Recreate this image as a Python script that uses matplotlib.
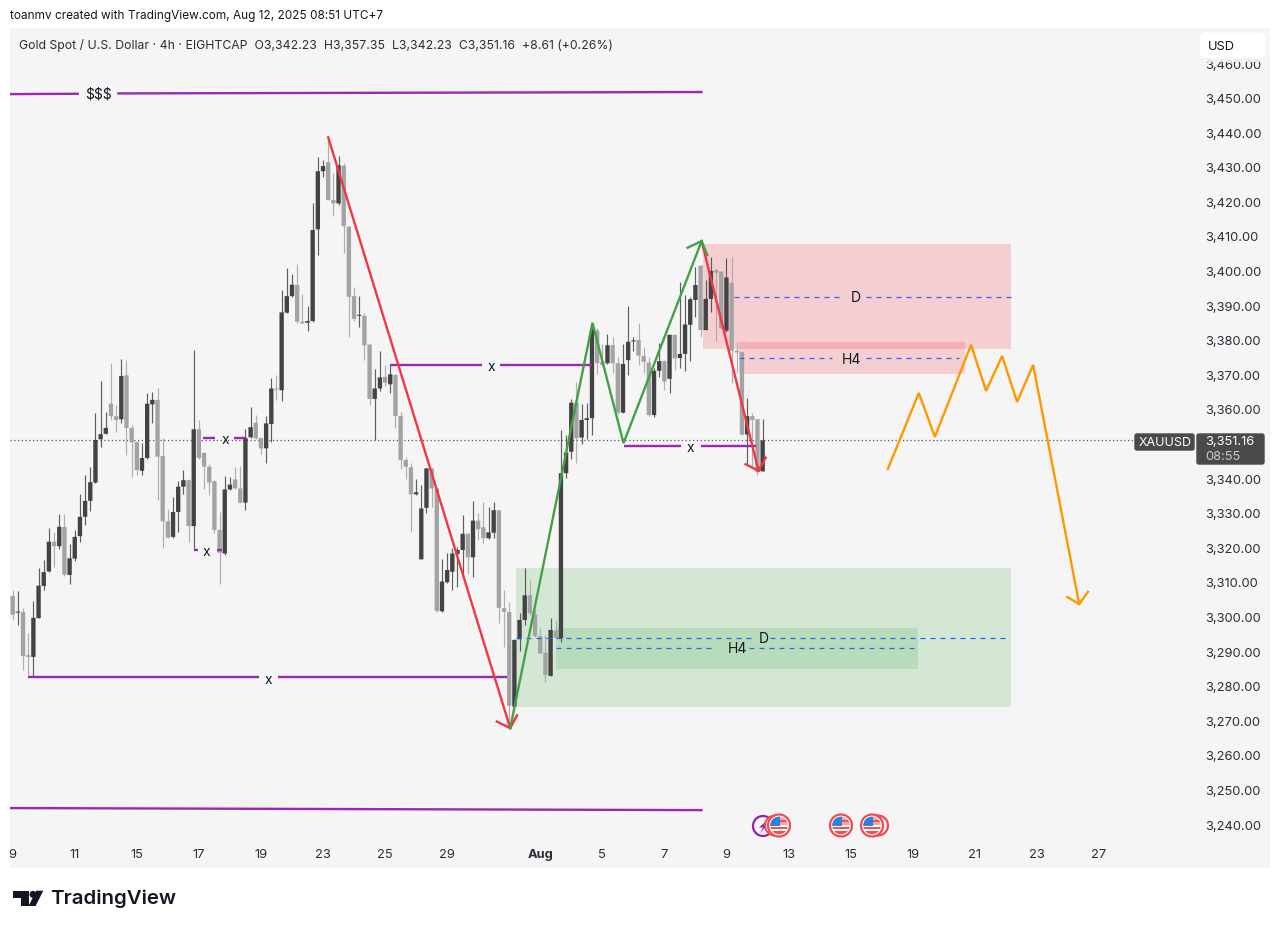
import matplotlib
matplotlib.use("Agg")
import matplotlib.pyplot as plt
from matplotlib.patches import Rectangle, FancyBboxPatch, Circle, Polygon

plt.rcParams['font.family'] = ['Inter', 'DejaVu Sans']

# 4h OHLC candles
opens = [3306.2,3301.4,3301.6,3289.1,3288.6,3299.8,3309.1,3313.3,3321.9,3320.6,3326.2,3312.3,3317.0,3323.5,3329.1,3333.7,
 3339.0,3351.5,3353.1,3361.8,3358.2,3357.3,3370.0,3354.8,3350.7,3342.4,3346.1,3361.6,3362.9,3346.7,3327.8,3323.3,
 3330.5,3337.8,3339.7,3326.4,3354.4,3347.6,3343.6,3339.4,3325.3,3318.5,3337.0,3339.9,3337.3,3333.2,3352.1,3356.3,
 3351.9,3348.9,3355.9,3366.2,3365.7,3388.1,3392.9,3396.1,3385.5,3385.2,3385.7,3412.2,3429.0,3431.6,3420.7,3419.7,
 3430.6,3413.0,3392.9,3387.2,3387.2,3378.9,3363.2,3366.2,3369.6,3367.4,3370.1,3358.2,3345.5,3343.4,3335.6,3316.8,
 3331.7,3343.1,3337.3,3301.8,3310.2,3313.2,3318.3,3319.5,3324.2,3317.4,3328.0,3326.1,3322.9,3324.5,3331.0,3302.7,
 3301.6,3274.2,3293.7,3299.3,3306.4,3300.8,3294.6,3289.8,3283.1,3296.2,3294.0,3341.7,3347.9,3362.1,3352.0,3357.1,
 3357.6,3382.9,3373.9,3373.5,3378.7,3373.5,3359.2,3374.4,3379.8,3380.2,3375.6,3373.7,3358.5,3371.3,3374.1,3369.0,
 3381.7,3375.0,3376.2,3384.6,3391.8,3401.7,3383.1,3392.1,3400.4,3400.0,3382.9,3396.8,3377.1,3376.7,3352.9,3358.2,
 3357.3,3342.23]
highs = [3307.9,3307.6,3302.6,3295.6,3304.8,3314.2,3316.6,3326.0,3324.8,3329.9,3329.9,3321.2,3325.3,3335.7,3341.2,3343.6,
 3359.0,3368.4,3359.5,3373.6,3361.4,3374.6,3374.4,3355.6,3351.0,3350.3,3364.8,3365.3,3366.2,3351.8,3331.5,3334.7,
 3339.5,3342.6,3339.9,3377.3,3357.1,3347.9,3344.5,3339.6,3330.6,3340.9,3340.5,3343.6,3343.8,3354.4,3360.9,3358.5,
 3352.0,3358.2,3369.1,3370.1,3394.8,3401.1,3399.3,3402.2,3393.5,3390.1,3419.7,3433.0,3432.2,3438.0,3428.4,3433.4,
 3431.3,3413.2,3395.6,3392.9,3388.1,3379.1,3371.7,3377.0,3373.0,3373.0,3370.3,3359.5,3346.5,3344.6,3339.9,3338.3,
 3343.3,3343.3,3337.5,3316.8,3318.5,3320.0,3320.5,3329.6,3324.4,3333.7,3330.3,3333.3,3332.0,3333.5,3331.2,3307.9,
 3304.6,3293.7,3301.2,3314.2,3310.8,3302.2,3296.9,3294.9,3299.7,3299.3,3354.2,3352.7,3363.3,3368.2,3361.7,3362.1,
 3385.0,3383.6,3379.2,3381.9,3381.0,3375.4,3379.2,3390.0,3381.2,3385.0,3378.1,3375.4,3372.0,3379.4,3374.3,3381.9,
 3381.9,3397.1,3393.2,3392.7,3401.4,3402.0,3397.5,3404.1,3400.9,3400.2,3403.8,3404.3,3379.7,3376.9,3363.5,3359.2,
 3357.5,3357.35]
lows = [3299.2,3297.8,3284.8,3283.3,3282.9,3299.7,3307.9,3313.2,3314.7,3319.7,3312.0,3309.8,3316.4,3321.9,3326.7,3330.9,
 3338.9,3349.2,3353.0,3357.1,3353.7,3356.3,3347.0,3340.7,3341.2,3341.2,3345.7,3356.3,3334.1,3320.0,3322.9,3323.1,
 3324.8,3335.7,3321.9,3319.5,3345.7,3337.0,3335.4,3324.5,3309.7,3318.0,3336.8,3337.0,3333.0,3331.2,3351.8,3351.5,
 3347.4,3344.7,3350.8,3362.8,3362.6,3387.9,3392.7,3385.2,3385.0,3382.9,3385.5,3404.8,3427.4,3420.7,3416.0,3419.2,
 3405.4,3381.2,3385.8,3383.9,3374.4,3361.4,3351.3,3365.5,3366.9,3364.8,3354.9,3342.8,3339.9,3324.8,3335.4,3316.8,
 3330.3,3332.0,3301.7,3301.7,3310.0,3307.9,3308.7,3311.3,3312.5,3311.8,3322.4,3321.6,3322.6,3322.9,3298.3,3291.6,
 3269.4,3274.0,3290.4,3297.8,3300.7,3294.4,3289.6,3281.4,3283.1,3294.0,3293.0,3340.2,3345.7,3344.7,3350.1,3351.5,
 3352.7,3370.4,3373.0,3373.3,3370.6,3358.8,3359.2,3370.1,3377.1,3373.0,3370.6,3358.2,3358.0,3369.6,3365.9,3365.0,
 3371.5,3372.0,3371.3,3374.2,3386.8,3381.2,3383.1,3388.4,3380.0,3383.3,3382.6,3367.7,3370.6,3352.7,3344.1,3343.6,
 3341.2,3342.23]
closes = [3300.8,3301.6,3288.8,3288.6,3299.9,3309.2,3313.1,3321.9,3320.6,3326.2,3312.4,3317.1,3323.3,3329.1,3333.7,3339.1,
 3351.3,3353.0,3354.8,3358.2,3357.1,3369.8,3354.8,3350.6,3342.6,3346.1,3361.8,3362.9,3346.5,3327.8,3323.1,3330.5,
 3337.8,3339.7,3326.4,3354.4,3346.1,3343.6,3339.0,3325.3,3318.7,3337.0,3338.4,3337.3,3333.2,3351.9,3355.0,3351.8,
 3348.9,3356.1,3366.2,3365.9,3388.2,3392.9,3396.2,3385.5,3385.0,3385.7,3412.0,3429.0,3430.5,3420.7,3419.7,3430.7,
 3413.1,3392.7,3386.3,3387.4,3378.7,3363.2,3366.2,3369.4,3367.9,3370.3,3358.2,3345.5,3343.6,3335.6,3336.2,3331.5,
 3343.1,3337.3,3301.9,3310.4,3313.7,3318.5,3319.5,3324.2,3317.4,3328.0,3325.5,3322.9,3324.6,3331.0,3302.8,3301.6,
 3274.5,3293.5,3299.3,3306.4,3301.2,3294.6,3289.6,3283.4,3296.4,3294.1,3341.7,3347.7,3362.1,3351.8,3357.1,3357.6,
 3383.1,3373.5,3373.0,3378.7,3373.5,3359.2,3373.3,3379.7,3380.1,3375.7,3373.9,3358.5,3371.3,3374.1,3368.2,3381.7,
 3374.9,3376.2,3384.7,3392.0,3396.1,3383.1,3392.1,3400.2,3399.7,3383.6,3398.3,3377.1,3376.6,3352.9,3358.2,3357.1,
 3342.1,3351.16]

price_ticks = [3240, 3250, 3260, 3270, 3280, 3290, 3300, 3310, 3320, 3330, 3340, 3360,
               3370, 3380, 3390, 3400, 3410, 3420, 3430, 3440, 3450, 3460]
date_positions = [0, 12, 24, 36, 48, 60, 72, 84, 102, 114, 126, 138, 150, 162, 174, 186, 198, 210]
date_labels = ['9', '11', '15', '17', '19', '23', '25', '29', 'Aug', '5', '7', '9', '13', '15', '19', '21', '23', '27']

# Analyst drawings, as (bar index, price)
red_leg_1 = ([61, 96.2], [3438.8, 3268.0])
red_leg_1_head = ([93.6, 96.2, 97.5], [3269.9, 3268.0, 3271.7])
red_leg_2 = ([133.2, 144.2], [3408.8, 3342.4])
red_leg_2_head = ([141.7, 144.2, 145.6], [3344.3, 3342.4, 3346.2])
green_path = ([96.2, 112.1, 118.1, 133.2], [3268.0, 3385.2, 3350.4, 3408.8])
green_head = ([130.5, 133.2, 134.3], [3406.9, 3408.8, 3404.8])
orange_path = ([169.2, 175.2, 178.3, 185.3, 188.2, 191.3, 194.2, 197.3, 206.2],
               [3342.9, 3364.9, 3352.2, 3378.8, 3365.5, 3375.6, 3362.3, 3373.0, 3303.9])
orange_head = ([203.9, 206.2, 207.9], [3305.9, 3303.9, 3307.4])

purple_segments = [
    ([-0.6, 12.8], [3451.3, 3451.4]),
    ([20.2, 133.4], [3451.5, 3451.9]),
    ([-0.6, 133.4], [3244.9, 3244.3]),
    ([3, 47.7], [3282.7, 3282.7]),
    ([51.3, 95.6], [3282.7, 3282.7]),
    ([73, 90.8], [3373.1, 3373.1]),
    ([94.3, 112], [3373.1, 3373.1]),
    ([36.8, 39.2], [3351.9, 3351.9]),
    ([42.8, 45.1], [3351.9, 3351.9]),
    ([35, 35.9], [3319.5, 3319.5]),
    ([39.5, 40.5], [3319.5, 3319.5]),
    ([118.2, 129.3], [3349.6, 3349.6]),
    ([133, 143.7], [3349.6, 3349.6]),
]
x_marks = [(49.4, 3282.7), (92.6, 3373.1), (41.1, 3351.9), (37.4, 3319.5), (131, 3349.6)]

zones = [
    (133.4, 193.0, 3377.6, 3407.9, '#f23645', 0.2),
    (140.4, 184.1, 3370.3, 3379.6, '#f23645', 0.2),
    (97.4, 193.0, 3274.0, 3314.3, '#4caf50', 0.2),
    (105, 175.0, 3285.0, 3297.0, '#4caf50', 0.2),
]
blue_dashes = [
    ([139.4, 160.0], 3392.7), ([165.0, 193.0], 3392.7),
    ([140.4, 158.5], 3374.9), ([165.0, 183.0], 3374.9),
    ([97.4, 142.7], 3294.2), ([146.5, 192.5], 3294.2),
    ([105, 136.0], 3291.2), ([142.3, 175.0], 3291.2),
]
zone_labels = [(163.1, 3392.7, 'D'), (162.1, 3374.9, 'H4'), (145.2, 3294.2, 'D'), (140.2, 3291.2, 'H4')]

DARK = '#434343'
LIGHT = '#a3a3a3'
BAR_STEP = 5.172
PX_LEFT, PX_RIGHT, PX_TOP, PX_BOTTOM = 10, 1270, 28, 868

fig = plt.figure(figsize=(12.8, 9.3), dpi=100, facecolor='white')
ax = fig.add_axes([PX_LEFT / 1280, 1 - PX_BOTTOM / 930,
                   (PX_RIGHT - PX_LEFT) / 1280, (PX_BOTTOM - PX_TOP) / 930])
ax.set_facecolor('#f5f5f5')
for s in ax.spines.values():
    s.set_visible(False)
ax.set_xlim((PX_LEFT - 12.7) / BAR_STEP, (PX_RIGHT - 12.7) / BAR_STEP)
ax.set_ylim(3240 - 43 / 3.459, 3240 + 797 / 3.459)

# Trade zones go underneath the candles
for x0, x1, y0, y1, color, alpha in zones:
    ax.add_patch(Rectangle((x0, y0), x1 - x0, y1 - y0, facecolor=color, alpha=alpha,
                           edgecolor='none', zorder=1))

# Candles: wick then body, dark for up bars and light for down bars
for i, (o, h, l, c) in enumerate(zip(opens, highs, lows, closes)):
    color = DARK if c >= o else LIGHT
    ax.vlines(i, l, h, color=color, lw=0.85, zorder=3, alpha=0.85)
    ax.add_patch(Rectangle((i - 0.42, min(o, c)), 0.84, max(abs(c - o), 0.3),
                           facecolor=color, edgecolor='none', zorder=4, snap=False))

# Last price line
ax.hlines(closes[-1], ax.get_xlim()[0], 217, color='#555555', lw=0.9,
          linestyles=(0, (1, 2)), zorder=2)

for xs, ys in purple_segments:
    ax.plot(xs, ys, color='#9c27b0', lw=1.7, solid_capstyle='butt', zorder=5)
for x, y in x_marks:
    ax.text(x, y - 0.7, 'x', ha='center', va='center', fontsize=10, color='#131722', zorder=7)
ax.text(16.5, 3451.1, '$$$', ha='center', va='center', fontsize=10, color='#131722', zorder=7)

for (x0, x1), y in blue_dashes:
    ax.plot([x0, x1], [y, y], color='#2962ff', lw=0.9, ls=(0, (4, 4)), zorder=5)
for x, y, s in zone_labels:
    ax.text(x, y - 0.4, s, ha='center', va='center', fontsize=10, color='#131722', zorder=7)

for path, color in [(red_leg_1, '#f23645'), (red_leg_1_head, '#f23645'),
                    (red_leg_2, '#f23645'), (red_leg_2_head, '#f23645'),
                    (green_path, '#43a047'), (green_head, '#43a047'),
                    (orange_path, '#ff9800'), (orange_head, '#ff9800')]:
    ax.plot(path[0], path[1], color=color, lw=1.7, zorder=6, solid_joinstyle='miter')

ax.set_yticks(price_ticks)
ax.set_yticklabels([f'{p:,.2f}' for p in price_ticks])
ax.yaxis.tick_right()
ax.tick_params(axis='y', length=0, pad=-47, labelsize=9.3, labelcolor='#2a2e39')
for t in ax.get_yticklabels():
    t.set_ha('left')
ax.set_xticks(date_positions)
ax.set_xticklabels(date_labels)
ax.tick_params(axis='x', length=0, pad=-13.5, labelsize=9.3, labelcolor='#2a2e39')
for t, s in zip(ax.get_xticklabels(), date_labels):
    if s == 'Aug':
        t.set_fontweight('bold')

# Page furniture, positioned in figure pixels
ov = fig.add_axes([0, 0, 1, 1], zorder=10)
ov.set_xlim(0, 1280)
ov.set_ylim(930, 0)
ov.axis('off')
ov.patch.set_alpha(0)

ov.text(10, 16, 'toanmv created with TradingView.com, Aug 12, 2025 08:51 UTC+7',
        fontsize=8.5, color='#131722', va='center')
ov.text(19, 45, 'Gold Spot / U.S. Dollar · 4h · EIGHTCAP  O3,342.23  H3,357.35  L3,342.23  C3,351.16  +8.61 (+0.26%)',
        fontsize=8.8, color='#2a2e39', va='center')

ov.add_patch(FancyBboxPatch((1203, 36), 59, 19, boxstyle='round,pad=0,rounding_size=3',
                            facecolor='white', edgecolor='white', lw=5))
ov.add_patch(Rectangle((1200, 58.5), 65, 3.5, facecolor='#f5f5f5', edgecolor='none', alpha=0.85))
ov.text(1208, 46.5, 'USD', fontsize=9.3, color='#131722', va='center')

ov.add_patch(FancyBboxPatch((1135, 434), 59, 16, boxstyle='round,pad=0,rounding_size=2',
                            facecolor='#4a4a4a', edgecolor='#4a4a4a', lw=1))
ov.text(1165, 442.5, 'XAUUSD', fontsize=9, color='white', ha='center', va='center')
ov.add_patch(FancyBboxPatch((1197, 434), 67, 30, boxstyle='round,pad=0,rounding_size=2',
                            facecolor='#4a4a4a', edgecolor='#4a4a4a', lw=1))
ov.text(1205, 442, f'{closes[-1]:,.2f}', fontsize=9.3, color='white', va='center')
ov.text(1205, 456.5, '08:55', fontsize=9.3, color='#c8c8c8', va='center')


def flag_icon(cx, cy, r=11.0):
    """US calendar marker: ringed circle holding a small flag."""
    face = Circle((cx, cy), r, facecolor='white', edgecolor='#f04a55', lw=1.6, zorder=3)
    ov.add_patch(face)
    clip = Circle((cx, cy), r - 2.2, transform=ov.transData)
    parts = [
        Rectangle((cx - r, cy - r), 2 * r, r - 0.5, facecolor='#f6a5ab', zorder=4),
        Rectangle((cx, cy - 6), r, 2, facecolor='#ef5350', zorder=4),
        Rectangle((cx - r, cy + 1), 2 * r, 2.2, facecolor='#ef5350', zorder=4),
        Rectangle((cx - r, cy + 5), 2 * r, 6, facecolor='#ef5350', zorder=4),
        Rectangle((cx - r, cy - r), r + 1, r + 0.8, facecolor='#2f80d8', zorder=5),
    ]
    for p in parts:
        ov.add_patch(p)
        p.set_clip_path(clip)


# Bolt marker and calendar events along the time axis
ov.add_patch(Circle((763, 826), 10, facecolor='#f5f5f5', edgecolor='#8e24aa', lw=1.6, zorder=2))
ov.add_patch(Polygon([(768.5, 819), (759, 827.5), (763.2, 827.5), (760, 833), (768, 824.5), (764, 824.5)],
                     facecolor='#8e24aa', edgecolor='none', zorder=2.2))
ov.add_patch(Circle((775, 825.5), 10, facecolor='#f5f5f5', edgecolor='#f04a55', lw=1.4, zorder=2.5))
flag_icon(779, 825.5)
flag_icon(841, 825.5)
ov.add_patch(Circle((878, 825.5), 10, facecolor='#f5f5f5', edgecolor='#f04a55', lw=1.6, zorder=2))
flag_icon(872, 825.5)

# TradingView logo
ov.add_patch(Polygon([(12.7, 890.7), (29.3, 890.7), (29.3, 906), (20.6, 906), (20.6, 898), (12.7, 898)],
                     facecolor='#131722', edgecolor='none'))
ov.add_patch(Circle((33, 894.4), 3.5, facecolor='#131722', edgecolor='none'))
ov.add_patch(Polygon([(36.2, 890.7), (43.3, 890.7), (35.6, 906), (28.6, 906)],
                     facecolor='#131722', edgecolor='none'))
ov.text(50, 898.5, 'TradingView', fontsize=14.7, fontweight='semibold', color='#131722', va='center')

fig.savefig('out.png', dpi=100, facecolor='white')
